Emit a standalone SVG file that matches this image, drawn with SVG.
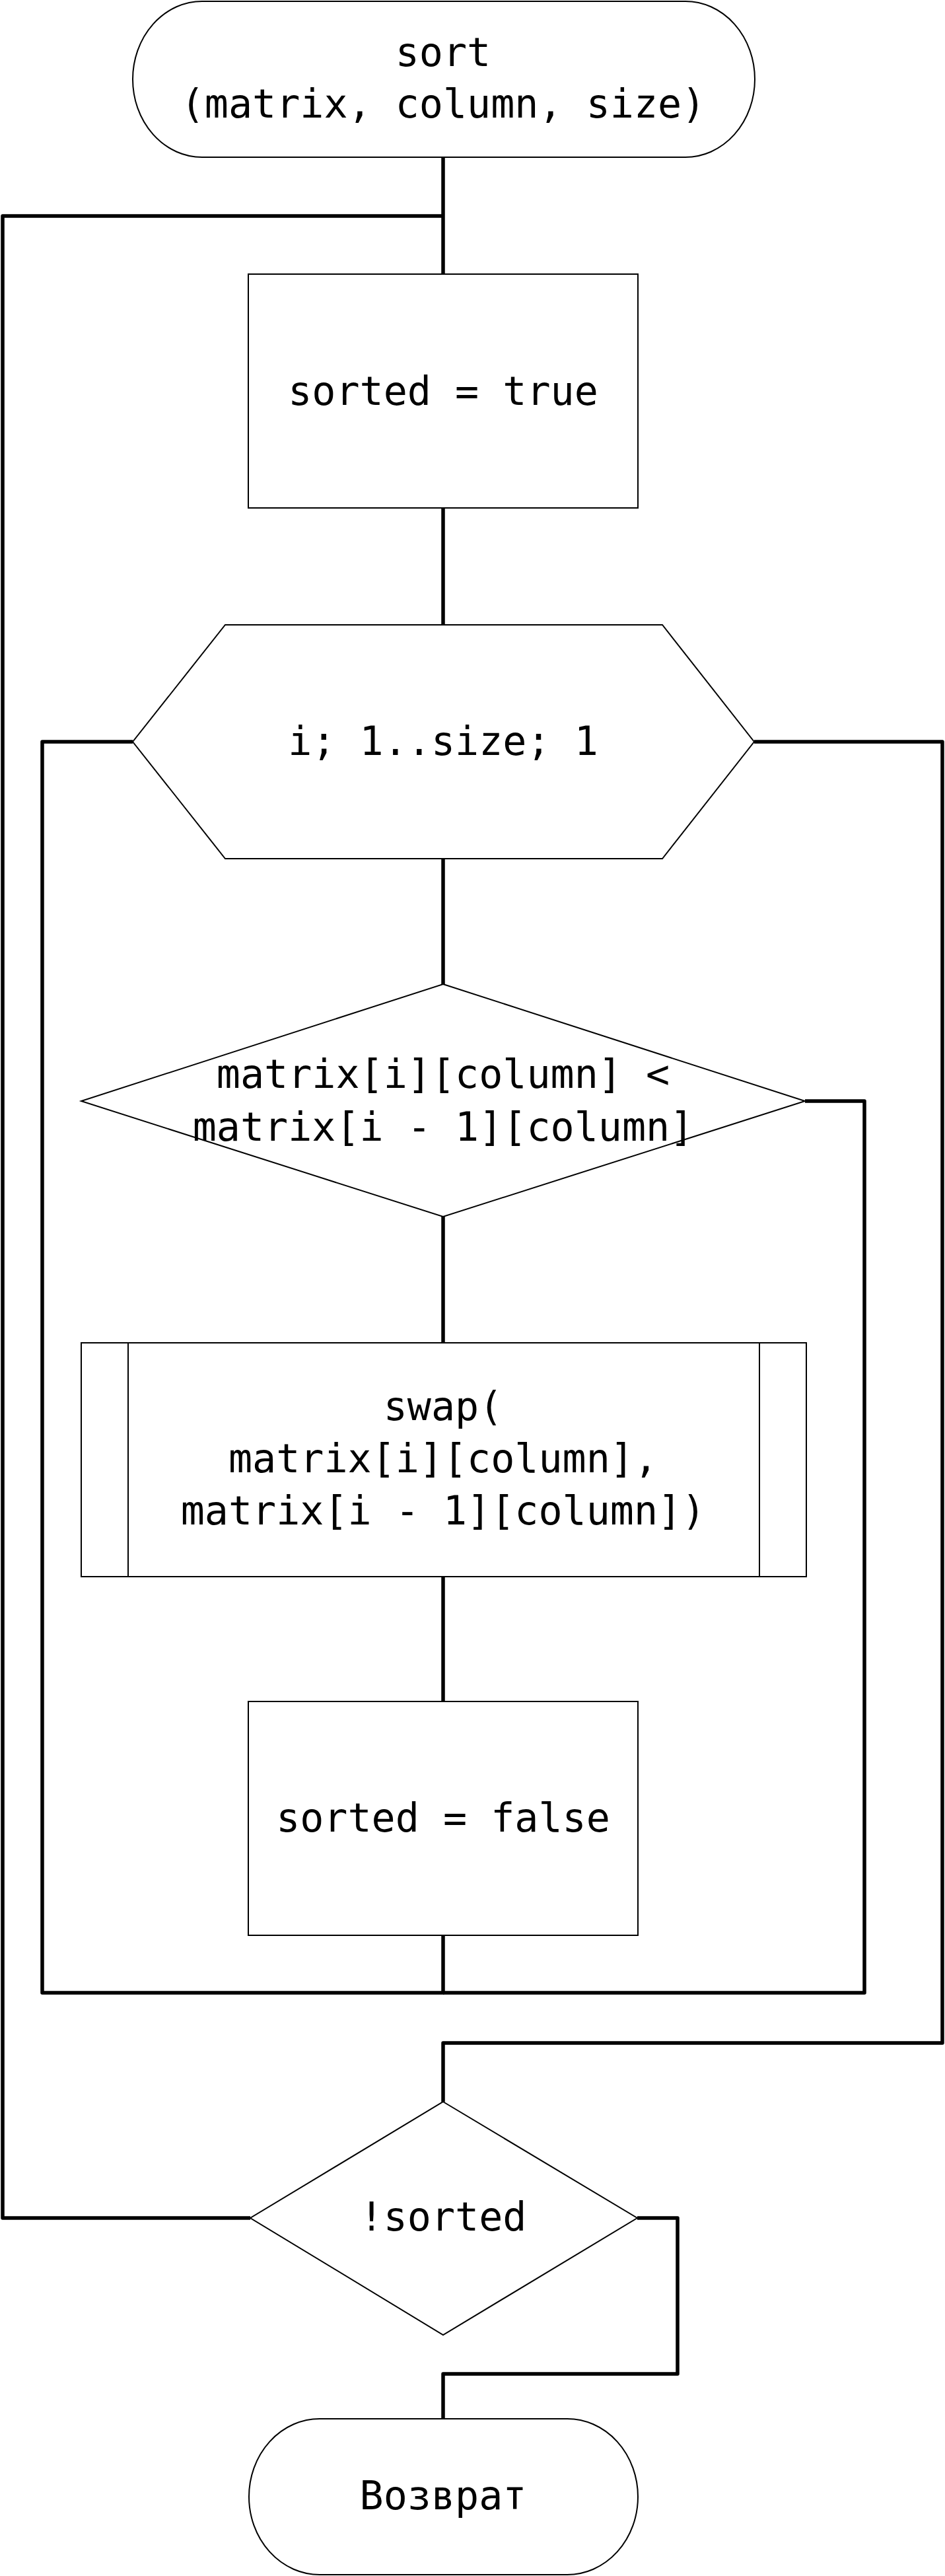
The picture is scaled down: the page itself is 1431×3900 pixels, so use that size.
<svg xmlns="http://www.w3.org/2000/svg" width="1431" height="3900" viewBox="0 0 1431 3900">
<style>
.shape{fill:#fff;stroke:#000;stroke-width:2}
.conn{fill:none;stroke:#000;stroke-width:5.5;stroke-linejoin:round;stroke-linecap:butt}
text{font-family:"DejaVu Sans Mono","Liberation Mono",monospace;font-size:60px;fill:#000;text-anchor:middle}
</style>
<rect width="1431" height="3900" fill="#fff"/>
<g id="connectors">
<path class="conn" d="M671,238 V415"/>
<path class="conn" d="M379,3358 H4 V327 H671"/>
<path class="conn" d="M671,769 V946"/>
<path class="conn" d="M671,1300 V1490"/>
<path class="conn" d="M671,1842 V2033"/>
<path class="conn" d="M671,2387 V2576"/>
<path class="conn" d="M671,2930 V3017 H64 V1123 H201"/>
<path class="conn" d="M1219,1667 H1309 V3017 H671"/>
<path class="conn" d="M1142,1123 H1427 V3093 H671 V3182"/>
<path class="conn" d="M965,3358 H1026 V3594 H671 V3662"/>
</g>
<g id="start">
<rect class="shape" x="201" y="2" width="942" height="236" rx="105" ry="118"/>
<text x="671" y="100">sort</text>
<text x="671" y="178">(matrix, column, size)</text>
</g>
<g id="init">
<rect class="shape" x="376" y="415" width="590" height="354"/>
<text x="671" y="613">sorted = true</text>
</g>
<g id="loop">
<polygon class="shape" points="341,946 1003,946 1142,1123 1003,1300 341,1300 201,1123"/>
<text x="671" y="1143">i; 1..size; 1</text>
</g>
<g id="cond">
<polygon class="shape" points="671,1490 1219,1667 671,1842 123,1667"/>
<text x="671" y="1647">matrix[i][column] &lt;</text>
<text x="671" y="1727">matrix[i - 1][column]</text>
</g>
<g id="swap">
<rect class="shape" x="123" y="2033" width="1098" height="354"/>
<line class="shape" x1="194" y1="2033" x2="194" y2="2387"/>
<line class="shape" x1="1150" y1="2033" x2="1150" y2="2387"/>
<text x="671" y="2150">swap(</text>
<text x="671" y="2229">matrix[i][column],</text>
<text x="671" y="2308">matrix[i - 1][column])</text>
</g>
<g id="setfalse">
<rect class="shape" x="376" y="2576" width="590" height="354"/>
<text x="671" y="2773">sorted = false</text>
</g>
<g id="check">
<polygon class="shape" points="671,3182 965,3358 671,3535 379,3358"/>
<text x="671" y="3377">!sorted</text>
</g>
<g id="end">
<rect class="shape" x="377" y="3662" width="589" height="236" rx="107" ry="118"/>
<text x="671" y="3799">Возврат</text>
</g>
</svg>
